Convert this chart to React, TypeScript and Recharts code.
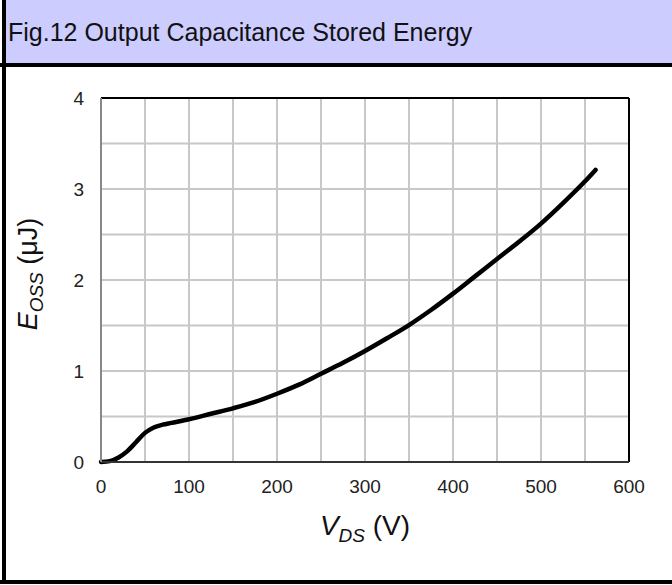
import { CartesianGrid, Label, Line, LineChart, ReferenceLine, XAxis, YAxis } from "recharts";

const vds = [0, 10, 20, 30, 40, 50, 60, 70, 80, 100, 125, 150, 175, 200, 225, 250, 275, 300, 325, 350, 375, 400, 425, 450, 475, 500, 525, 550, 562];
const eoss = [0, 0.01, 0.05, 0.12, 0.22, 0.32, 0.38, 0.41, 0.43, 0.47, 0.53, 0.59, 0.66, 0.75, 0.85, 0.97, 1.09, 1.22, 1.36, 1.505, 1.67, 1.85, 2.04, 2.23, 2.42, 2.62, 2.845, 3.085, 3.21];

const xTicks = [0, 50, 100, 150, 200, 250, 300, 350, 400, 450, 500, 550, 600];
const yTicks = [0, 0.5, 1, 1.5, 2, 2.5, 3, 3.5, 4];

const data = vds.map((v, i) => ({ vds: v, eoss: eoss[i] }));

const FONT = '"Liberation Sans", Arial, sans-serif';

function XTitle({ viewBox }: any) {
  const { x, y, width } = viewBox;
  return (
    <text x={x + width / 2} y={y + 73} textAnchor="middle" fontFamily={FONT} fontSize={28} fill="#111">
      <tspan fontStyle="italic">V</tspan>
      <tspan fontStyle="italic" fontSize={19} dy={7}>DS</tspan>
      <tspan dy={-7}> (V)</tspan>
    </text>
  );
}

function YTitle({ viewBox }: any) {
  const { x, y, height } = viewBox;
  const cx = x - 4;
  const cy = y + height / 2 - 6;
  return (
    <text x={cx} y={cy} transform={`rotate(-90 ${cx} ${cy})`} textAnchor="middle" fontFamily={FONT} fontSize={27} fill="#111">
      <tspan fontStyle="italic">E</tspan>
      <tspan fontStyle="italic" fontSize={19} dy={6}>OSS</tspan>
      <tspan dy={-6}> (μJ)</tspan>
    </text>
  );
}

export default function App() {
  return (
    <div style={{ position: "absolute", left: 0, top: 0, width: 672, height: 585, background: "#fff", overflow: "hidden" }}>
      {/* frame */}
      <div style={{ position: "absolute", left: 6, top: 0, right: 0, height: 63, background: "#ccccff" }} />
      <div
        style={{
          position: "absolute",
          left: 8,
          top: 17,
          fontFamily: FONT,
          fontSize: 25,
          lineHeight: "30px",
          color: "#111",
          whiteSpace: "nowrap",
        }}
      >
        Fig.12 Output Capacitance Stored Energy
      </div>
      <div style={{ position: "absolute", left: 0, top: 63, right: 0, height: 4, background: "#000" }} />
      <div style={{ position: "absolute", left: 0, top: 580, right: 0, height: 4, background: "#000" }} />
      <div style={{ position: "absolute", left: 2, top: 0, width: 4, height: 584, background: "#000" }} />

      <div style={{ position: "absolute", left: 0, top: 0 }}>
        <LineChart width={672} height={585} data={data} margin={{ top: 98, right: 43, left: 41, bottom: 93 }}>
          <CartesianGrid stroke="#c8c8c8" strokeWidth={2} />
          <XAxis
            dataKey="vds"
            type="number"
            domain={[0, 600]}
            ticks={xTicks}
            tickFormatter={(v) => (v % 100 === 0 ? String(v) : "")}
            height={30}
            tickLine={false}
            tickSize={0}
            tickMargin={18}
            axisLine={{ stroke: "#333", strokeWidth: 2 }}
            tick={{ fontFamily: FONT, fontSize: 19, fill: "#222" }}
            interval={0}
          >
            <Label content={<XTitle />} />
          </XAxis>
          <YAxis
            type="number"
            domain={[0, 4]}
            ticks={yTicks}
            tickFormatter={(v) => (Number.isInteger(v) ? String(v) : "")}
            width={60}
            tickLine={false}
            tickSize={0}
            tickMargin={17}
            axisLine={{ stroke: "#888", strokeWidth: 2 }}
            tick={{ fontFamily: FONT, fontSize: 19, fill: "#222" }}
            interval={0}
          >
            <Label content={<YTitle />} />
          </YAxis>
          <ReferenceLine y={4} stroke="#000" strokeWidth={2} />
          <ReferenceLine x={600} stroke="#000" strokeWidth={2} />
          <Line
            dataKey="eoss"
            type="monotone"
            stroke="#000"
            strokeWidth={4.5}
            strokeLinecap="round"
            dot={false}
            isAnimationActive={false}
          />
        </LineChart>
      </div>
    </div>
  );
}
